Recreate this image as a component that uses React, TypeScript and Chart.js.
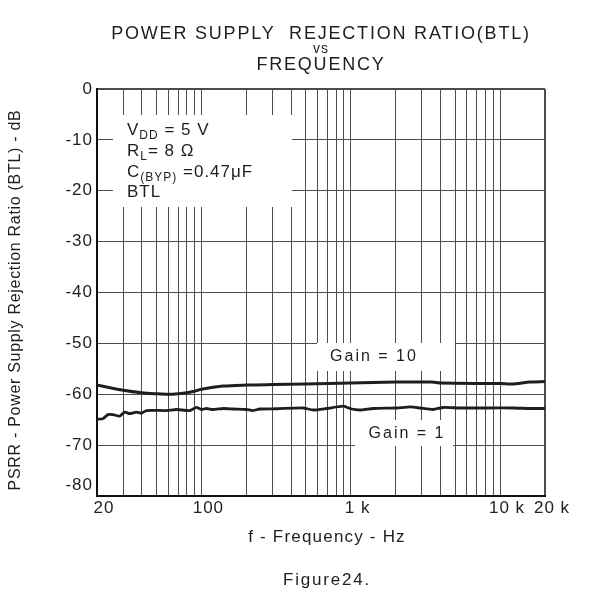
import React, { useEffect, useRef } from "react";
import { Chart, registerables } from "chart.js";

Chart.register(...registerables);

const TITLE_LINE1 = "POWER SUPPLY  REJECTION RATIO(BTL)";
const TITLE_LINE2 = "vs";
const TITLE_LINE3 = "FREQUENCY";
const X_TITLE = "f - Frequency - Hz";
const Y_TITLE = "PSRR - Power Supply Rejection Ratio (BTL) - dB";
const CAPTION = "Figure24.";
const GAIN10_LABEL = "Gain = 10";
const GAIN1_LABEL = "Gain = 1";

// frequency ticks (Hz) and their labels
const xTickValues = [
  20, 30, 40, 50, 60, 70, 80, 90, 100, 200, 300, 400, 500, 600, 700, 800, 900, 1000,
  2000, 3000, 4000, 5000, 6000, 7000, 8000, 9000, 10000, 20000,
];
const xLabelValues = [20, 100, 1000, 10000, 20000];
const xLabelTexts = ["20", "100", "1 k", "10 k", "20 k"];
const yTickValues = [0, -10, -20, -30, -40, -50, -60, -70, -80];

// Gain = 10 curve
const freqGain10 = [20, 30, 40, 50, 60, 70, 80, 90, 100, 140, 200, 300, 500, 1000, 2000, 3500, 4000, 10000, 12000, 15900, 20000];
const psrrGain10 = [-58.2, -59.2, -59.7, -59.9, -60.0, -59.9, -59.7, -59.4, -59.0, -58.4, -58.2, -58.1, -58.0, -57.8, -57.6, -57.6, -57.8, -57.9, -58.0, -57.6, -57.5];

// Gain = 1 curve
const freqGain1 = [20, 21.9, 23.7, 25.6, 28.4, 30.6, 33.1, 36.7, 39.7, 42.9, 58.3, 68, 83.6, 92.7, 100, 108, 120, 140, 163, 200, 222, 246, 318, 481, 561, 690, 891, 988, 1153, 1416, 2032, 2496, 2911, 3557, 4150, 5396, 8147, 12280, 15890, 20000];
const psrrGain1 = [-64.9, -64.8, -64.0, -64.0, -64.3, -63.5, -63.8, -63.5, -63.7, -63.2, -63.2, -63.0, -63.2, -62.6, -63.0, -62.8, -63.0, -62.8, -62.9, -63.0, -63.2, -62.9, -62.85, -62.7, -63.1, -62.8, -62.35, -62.8, -63.1, -62.8, -62.7, -62.5, -62.7, -63.0, -62.6, -62.7, -62.7, -62.7, -62.8, -62.8];

const FONT = "'Liberation Sans', Arial, Helvetica, sans-serif";
const INK = "#1e1e1e";

type Seg = { t: string; sub?: boolean };

function drawSegs(ctx: CanvasRenderingContext2D, segs: Seg[], x: number, y: number, size: number, subSize: number) {
  let cx = x;
  for (const s of segs) {
    ctx.font = `${s.sub ? subSize : size}px ${FONT}`;
    const yy = s.sub ? y + 4 : y;
    ctx.fillText(s.t, cx, yy);
    cx += ctx.measureText(s.t).width;
  }
}

const overlayPlugin = {
  id: "overlay",
  beforeDraw(chart: any) {
    chart.ctx.letterSpacing = "1px";
  },
  beforeDatasetsDraw(chart: any) {
    const ctx: CanvasRenderingContext2D = chart.ctx;
    ctx.save();
    ctx.fillStyle = "#ffffff";
    ctx.fillRect(113, 115, 292 - 113, 207 - 115);
    ctx.fillRect(317, 343, 455 - 317, 371 - 343);
    ctx.fillRect(355, 420, 453 - 355, 446 - 420);
    ctx.restore();
  },
  afterDraw(chart: any) {
    const ctx: CanvasRenderingContext2D = chart.ctx;
    const area = chart.chartArea;
    const cx = (area.left + area.right) / 2;
    ctx.save();
    ctx.fillStyle = INK;
    ctx.textBaseline = "alphabetic";

    // title
    ctx.textAlign = "center";
    ctx.letterSpacing = "1.8px";
    ctx.font = `18px ${FONT}`;
    ctx.fillText(TITLE_LINE1, cx, 39);
    ctx.font = `14px ${FONT}`;
    ctx.letterSpacing = "1px";
    ctx.fillText(TITLE_LINE2, cx, 53);
    ctx.font = `18px ${FONT}`;
    ctx.letterSpacing = "1.8px";
    ctx.fillText(TITLE_LINE3, cx, 70);

    // x title and caption
    ctx.letterSpacing = "1.2px";
    ctx.font = `17px ${FONT}`;
    ctx.textBaseline = "middle";
    ctx.fillText(X_TITLE, cx + 6, 537);
    ctx.letterSpacing = "1.8px";
    ctx.fillText(CAPTION, cx + 6, 580);

    // y title
    ctx.save();
    ctx.translate(16, 300);
    ctx.rotate(-Math.PI / 2);
    ctx.letterSpacing = "0.7px";
    ctx.font = `16px ${FONT}`;
    ctx.textAlign = "center";
    ctx.textBaseline = "middle";
    ctx.fillText(Y_TITLE, 0, 0);
    ctx.restore();

    // conditions box
    ctx.textAlign = "left";
    ctx.textBaseline = "alphabetic";
    ctx.letterSpacing = "1px";
    const x0 = 127;
    drawSegs(ctx, [{ t: "V" }, { t: "DD", sub: true }, { t: " = 5 V" }], x0, 135, 17, 12);
    drawSegs(ctx, [{ t: "R" }, { t: "L", sub: true }, { t: "= 8 \u03A9" }], x0, 156, 17, 12);
    drawSegs(ctx, [{ t: "C" }, { t: "(BYP)", sub: true }, { t: " =0.47\u03BCF" }], x0, 177, 17, 12);
    drawSegs(ctx, [{ t: "BTL" }], x0, 197, 17, 12);

    // gain labels
    ctx.textAlign = "center";
    ctx.textBaseline = "middle";
    ctx.font = `16px ${FONT}`;
    ctx.letterSpacing = "2px";
    ctx.fillText(GAIN10_LABEL, 374, 357);
    ctx.fillText(GAIN1_LABEL, 407, 434);
    ctx.restore();
  },
};

export default function App() {
  const ref = useRef<HTMLCanvasElement>(null);

  useEffect(() => {
    const canvas = ref.current;
    if (!canvas) return;
    const chart = new Chart(canvas, {
      type: "line",
      data: {
        datasets: [
          {
            label: GAIN10_LABEL,
            data: freqGain10.map((f, i) => ({ x: f, y: psrrGain10[i] })),
            borderColor: INK,
            borderWidth: 3,
            pointRadius: 0,
            tension: 0.3,
            fill: false,
          },
          {
            label: GAIN1_LABEL,
            data: freqGain1.map((f, i) => ({ x: f, y: psrrGain1[i] })),
            borderColor: INK,
            borderWidth: 2.8,
            pointRadius: 0,
            tension: 0.2,
            fill: false,
          },
        ],
      },
      options: {
        responsive: false,
        animation: false,
        devicePixelRatio: 1,
        layout: { padding: { top: 89, left: 0, right: 47, bottom: 78 } },
        plugins: {
          legend: { display: false },
          tooltip: { enabled: false },
          title: { display: false },
        },
        scales: {
          x: {
            type: "logarithmic",
            min: 20,
            max: 20000,
            afterBuildTicks: (s: any) => {
              s.ticks = xTickValues.map((v) => ({ value: v }));
            },
            afterFit: (s: any) => {
              s.height = 20;
            },
            ticks: {
              autoSkip: false,
              maxRotation: 0,
              minRotation: 0,
              padding: 2,
              labelOffset: 7,
              color: INK,
              font: { family: FONT, size: 17 },
              callback: (v: any) => {
                const i = xLabelValues.indexOf(Number(v));
                return i >= 0 ? xLabelTexts[i] : "";
              },
            },
            grid: {
              drawTicks: false,
              color: "#4d4d4d",
              lineWidth: (c: any) => (c.tick && c.tick.value === 20000 ? 2 : 1),
            },
            border: { display: true, color: "#111", width: 2 },
          },
          y: {
            type: "linear",
            min: -80,
            max: 0,
            afterBuildTicks: (s: any) => {
              s.ticks = yTickValues.map((v) => ({ value: v }));
            },
            afterFit: (s: any) => {
              s.width = 97;
            },
            ticks: {
              padding: 4,
              color: INK,
              font: { family: FONT, size: 17 },
              callback: (v: any) => (Number(v) === -80 ? ["-80", ""] : String(v)),
            },
            grid: {
              drawTicks: false,
              color: "#4d4d4d",
              lineWidth: (c: any) => (c.tick && c.tick.value === 0 ? 2 : 1),
            },
            border: { display: true, color: "#111", width: 2 },
          },
        },
      },
      plugins: [overlayPlugin],
    } as any);
    return () => chart.destroy();
  }, []);

  return (
    <div style={{ position: "fixed", left: 0, top: 0, width: 592, height: 594, background: "#ffffff" }}>
      <canvas ref={ref} width={592} height={594} style={{ display: "block", width: 592, height: 594 }} />
    </div>
  );
}
